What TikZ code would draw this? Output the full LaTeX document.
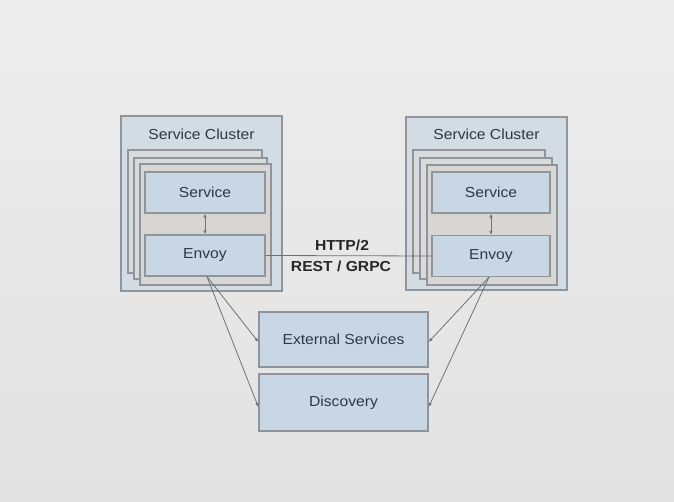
\documentclass[tikz,border=0pt]{standalone}
\usepackage{fontspec}
\setmainfont{Liberation Sans}[FakeStretch=1.08]
\usetikzlibrary{arrows.meta}
\definecolor{bgtop}{HTML}{EDEDED}
\definecolor{bgbot}{HTML}{E2E2E2}
\definecolor{clusterfill}{HTML}{D3DBE3}
\definecolor{cardfill}{HTML}{D9DADC}
\definecolor{frontfill}{HTML}{D7D6D3}
\definecolor{boxfill}{HTML}{C9D7E5}
\definecolor{bordercol}{HTML}{8F959B}
\definecolor{txtcol}{HTML}{2E3844}
\definecolor{linecol}{HTML}{6E7276}
\tikzset{
  rect/.style={draw=bordercol, line width=1.3pt, inner sep=0pt, anchor=center},
  cluster/.style={rect, fill=clusterfill},
  card/.style={rect, fill=cardfill},
  frontcard/.style={rect, fill=frontfill},
  svcbox/.style={rect, fill=boxfill, text=txtcol, font=\fontsize{14.5}{16}\selectfont},
  label/.style={text=txtcol, font=\fontsize{14.5}{16}\selectfont, inner sep=0pt},
  boldlabel/.style={text=black!85, font=\bfseries\fontsize{14.5}{16}\selectfont, inner sep=0pt},
  conn/.style={draw=linecol, line width=0.8pt},
  tip/.style={-{Latex[length=4pt,width=3.5pt]}},
  tips/.style={{Latex[length=4pt,width=3.5pt]}-{Latex[length=4pt,width=3.5pt]}}
}
\begin{document}
\begin{tikzpicture}[x=1pt,y=-1pt]
\shade[top color=bgtop, bottom color=bgbot] (0,0) rectangle (674,502);
\useasboundingbox (0,0) rectangle (674,502);

% left cluster
\node[cluster, minimum width=161, minimum height=175] (LC) at (201.5,203.5) {};
\node[label] (LCT) at (201.5,134) {Service Cluster};
\node[card, minimum width=134, minimum height=123] (LC1) at (195,211.5) {};
\node[card, minimum width=133, minimum height=121] (LC2) at (200.5,218.5) {};
\node[frontcard, minimum width=131, minimum height=121] (LC3) at (205.5,224.5) {};
\node[svcbox, minimum width=120, minimum height=41] (SL) at (205,192.5) {Service};
\node[svcbox, minimum width=120, minimum height=41] (EL) at (205,255.5) {Envoy};

% right cluster
\node[cluster, minimum width=161, minimum height=173] (RC) at (486.5,203.5) {};
\node[label] (RCT) at (486.5,134) {Service Cluster};
\node[card, minimum width=132, minimum height=123] (RC1) at (479,211.5) {};
\node[card, minimum width=132, minimum height=121] (RC2) at (486,218.5) {};
\node[frontcard, minimum width=130, minimum height=120] (RC3) at (492,225) {};
\node[svcbox, minimum width=118, minimum height=41] (SR) at (491,192.5) {Service};
\node[svcbox, minimum width=118, minimum height=41] (ER) at (491,256) {Envoy};

% bottom boxes
\node[svcbox, minimum width=169, minimum height=55] (EXT) at (343.5,339.5) {External Services};
\node[svcbox, minimum width=169, minimum height=57] (DISC) at (343.5,402.5) {Discovery};

% connectors
\draw[conn, tips] (SL.south) -- (EL.north);
\draw[conn, tips] (SR.south) -- (ER.north);
\draw[conn] (EL.east) -- (ER.west);
\node[boldlabel] (H2) at (342,245) {HTTP/2};
\node[boldlabel] (RG) at (341,266.5) {REST / GRPC};

\coordinate (ELb) at ([xshift=2pt]EL.south);
\coordinate (ERb) at ([xshift=-2pt]ER.south);
\draw[conn, tip] (ELb) -- ([yshift=-2.5pt]EXT.west);
\draw[conn, tip] (ELb) -- ([yshift=-4.5pt]DISC.west);
\draw[conn, tip] (ERb) -- ([yshift=-2.5pt]EXT.east);
\draw[conn, tip] (ERb) -- ([yshift=-4.5pt]DISC.east);
\end{tikzpicture}
\end{document}
